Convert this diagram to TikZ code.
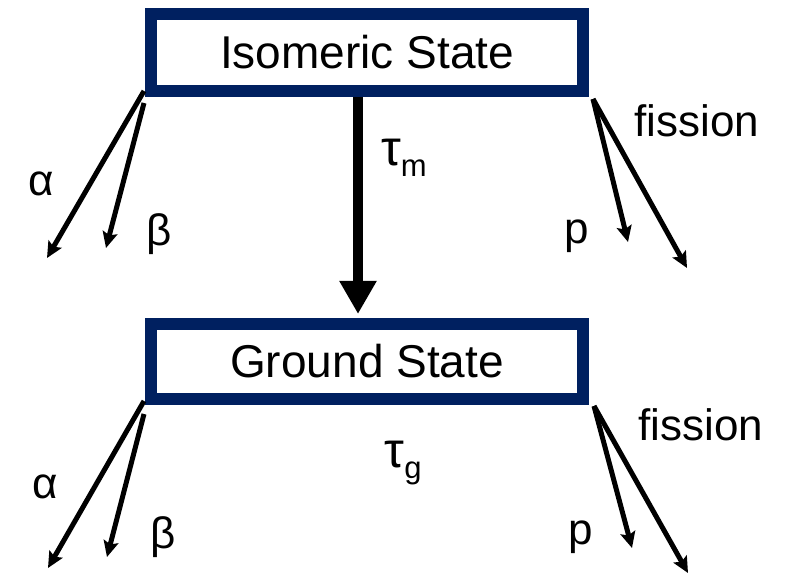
\documentclass[tikz,border=0pt]{standalone}
\usepackage{fontspec}
\setmainfont{Liberation Sans}
\usetikzlibrary{arrows.meta}
\definecolor{navy}{HTML}{002060}
\tikzset{
  statebox/.style={draw=navy, line width=12pt, fill=white, minimum width=432pt, inner sep=0pt, font=\fontsize{46}{52}\selectfont},
  decay/.style={line width=5pt, -{Stealth[length=16pt,width=15pt,inset=3pt]}},
  mainarrow/.style={line width=10pt, -{Triangle[length=33pt,width=35pt]}},
  lbl/.style={inner sep=0pt, font=\fontsize{44}{50}\selectfont},
}
\newcommand{\tausub}[1]{{\fontsize{50}{56}\selectfont τ}{\fontsize{31}{34}\selectfont\raisebox{-11pt}{#1}}}
\begin{document}
\begin{tikzpicture}[x=1pt,y=-1pt]
\useasboundingbox (0,0) rectangle (792,577);
\node[statebox, minimum height=77pt] (iso) at (367,52.5) {Isomeric State};
\node[statebox, minimum height=75pt] (gnd) at (367,361.5) {Ground State};

% main transition
\draw[mainarrow] ([xshift=-9pt]iso.south) -- ([xshift=-9pt,yshift=4pt]gnd.north);
\node[lbl] (taum) at (404,158) {\tausub{m}};
\node[lbl] (taug) at (403,463) {\tausub{g}};

% top decays
\coordinate (ta) at (47,258);
\coordinate (tb) at (106,248);
\coordinate (tp) at (628,242);
\coordinate (tf) at (687,268);
\draw[decay] ([shift={(-1pt,6pt)}]iso.south west) -- (ta);
\draw[decay] ([shift={(-1pt,-6pt)}]iso.south west) -- (tb);
\draw[decay] ([shift={(4pt,-2pt)}]iso.south east) -- (tp);
\draw[decay] ([shift={(4pt,-2pt)}]iso.south east) -- (tf);
\node[lbl] (la1) at (41,184) {α};
\node[lbl] (lb1) at (159,234) {β};
\node[lbl] (lp1) at (577,236) {p};
\node[lbl] (lf1) at (697,121) {fission};

% bottom decays
\coordinate (ba) at (48,568);
\coordinate (bb) at (107,557);
\coordinate (bp) at (632,548);
\coordinate (bf) at (688,573);
\draw[decay] ([shift={(-1pt,4pt)}]gnd.south west) -- (ba);
\draw[decay] ([shift={(-1pt,-9pt)}]gnd.south west) -- (bb);
\draw[decay] ([shift={(5pt,-1pt)}]gnd.south east) -- (bp);
\draw[decay] ([shift={(5pt,-1pt)}]gnd.south east) -- (bf);
\node[lbl] (la2) at (45,487) {α};
\node[lbl] (lb2) at (163,537) {β};
\node[lbl] (lp2) at (581,537) {p};
\node[lbl] (lf2) at (701,425) {fission};
\end{tikzpicture}
\end{document}
